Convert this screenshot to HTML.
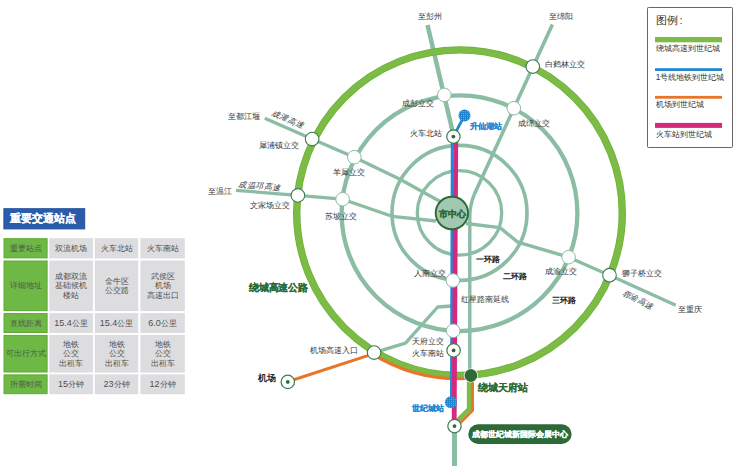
<!DOCTYPE html><html><head><meta charset="utf-8"><style>html,body{margin:0;padding:0;background:#fff;width:735px;height:466px;overflow:hidden}svg{display:block;font-family:"Liberation Sans",sans-serif}</style></head><body>
<svg width="735" height="466" viewBox="0 0 735 466">
<g fill="none" stroke="#8bbca4">
<circle cx="459.5" cy="212.9" r="42.2" stroke-width="3.3"/>
<circle cx="459.5" cy="212.9" r="67.5" stroke-width="3.6"/>
<circle cx="459.5" cy="213.2" r="117.9" stroke-width="4.3"/>
</g>
<path d="M427.5,25 L453.8,136.6" fill="none" stroke="#8bbca4" stroke-width="4.5" stroke-linejoin="round"/>
<path d="M552.4,24.5 L474,195" fill="none" stroke="#8bbca4" stroke-width="3.6" stroke-linejoin="round"/>
<path d="M264.8,118.2 L312.1,139.1 L354.3,157.2 L400,179.2 L441,202" fill="none" stroke="#8bbca4" stroke-width="3.3" stroke-linejoin="round"/>
<path d="M235.9,190.3 L297.9,195.4 L342.6,199.2 L392,216.3 L436,221" fill="none" stroke="#8bbca4" stroke-width="3.3" stroke-linejoin="round"/>
<path d="M466,223.5 L500,227.6 L517.7,242.1 L568.6,257.2 L609.5,275.2 L675.8,305.2" fill="none" stroke="#8bbca4" stroke-width="3.3" stroke-linejoin="round"/>
<path d="M374.1,352.6 L405.5,343.2 L437.7,307 L452,306" fill="none" stroke="#8bbca4" stroke-width="3.3" stroke-linejoin="round"/>
<path d="M454.5,426 L454.5,470" fill="none" stroke="#8bbca4" stroke-width="5" stroke-linejoin="round"/>
<path d="M474,195 Q470,205 469.8,216 L469.8,376" fill="none" stroke="#8bbca4" stroke-width="3.4"/>
<circle cx="459.5" cy="212.7" r="162.8" fill="none" stroke="#69b132" stroke-width="7.4"/>
<circle cx="459.5" cy="212.7" r="162.8" fill="none" stroke="#7bbb46" stroke-width="6"/>
<path d="M287.6,381.7 L372.5,354.1 A166,166 0 0 0 471.4,378.3 L472.5,375 L472.5,410.5 L458.5,424.5" fill="none" stroke="#e8762a" stroke-width="3" stroke-linejoin="miter"/>
<path d="M469,375 L469,409 L456,422" fill="none" stroke="#7bbb46" stroke-width="4.3"/>
<path d="M464.4,115.6 L453.4,136.6 L452.2,140 L451.4,402" fill="none" stroke="#2288d4" stroke-width="2.8"/>
<path d="M455.8,137 L454.2,420" fill="none" stroke="#d42a7e" stroke-width="4.8"/>
<defs><pattern id="dp" x="0" y="0" width="2" height="2" patternUnits="userSpaceOnUse"><rect width="2" height="2" fill="#1f86d4"/><rect x="1" y="1" width="1" height="1" fill="#5aa8e4"/></pattern></defs>
<circle cx="464.5" cy="115.4" r="6" fill="url(#dp)"/>
<circle cx="450.9" cy="402.2" r="6" fill="url(#dp)"/>
<circle cx="444.3" cy="94.9" r="6.8" fill="#fff" stroke="#8bbca4" stroke-width="1"/>
<circle cx="513.8" cy="108.2" r="6.8" fill="#fff" stroke="#8bbca4" stroke-width="1"/>
<circle cx="354.3" cy="157.2" r="6.8" fill="#fff" stroke="#8bbca4" stroke-width="1"/>
<circle cx="342.6" cy="199.2" r="6.8" fill="#fff" stroke="#8bbca4" stroke-width="1"/>
<circle cx="452.9" cy="280.5" r="6.8" fill="#fff" stroke="#8bbca4" stroke-width="1"/>
<circle cx="453.2" cy="330.8" r="6.8" fill="#fff" stroke="#8bbca4" stroke-width="1"/>
<circle cx="568.6" cy="257.2" r="6.8" fill="#fff" stroke="#8bbca4" stroke-width="1"/>
<circle cx="532.8" cy="66.6" r="6.8" fill="#fff" stroke="#3b7b4d" stroke-width="1.1"/>
<circle cx="312.1" cy="139.1" r="6.8" fill="#fff" stroke="#3b7b4d" stroke-width="1.1"/>
<circle cx="297.9" cy="195.4" r="6.8" fill="#fff" stroke="#3b7b4d" stroke-width="1.1"/>
<circle cx="609.5" cy="275.2" r="6.8" fill="#fff" stroke="#3b7b4d" stroke-width="1.1"/>
<circle cx="374.1" cy="352.6" r="6.8" fill="#fff" stroke="#3b7b4d" stroke-width="1.1"/>
<circle cx="453.4" cy="136.6" r="6.7" fill="#fff" stroke="#3b7b4d" stroke-width="1.2"/><circle cx="453.4" cy="136.6" r="1.9" fill="#2c6a37"/>
<circle cx="453.6" cy="350.4" r="6.7" fill="#fff" stroke="#3b7b4d" stroke-width="1.2"/><circle cx="453.6" cy="350.4" r="1.9" fill="#2c6a37"/>
<circle cx="454.5" cy="426.1" r="6.7" fill="#fff" stroke="#3b7b4d" stroke-width="1.2"/><circle cx="454.5" cy="426.1" r="1.9" fill="#2c6a37"/>
<circle cx="287.8" cy="381.9" r="6.7" fill="#fff" stroke="#3b7b4d" stroke-width="1.2"/><circle cx="287.8" cy="381.9" r="1.9" fill="#2c6a37"/>
<circle cx="470.9" cy="375.5" r="7.1" fill="#fff"/><circle cx="470.9" cy="375.5" r="5.9" fill="#2d6c39" stroke="#215c2b" stroke-width="0.9"/>
<circle cx="451.9" cy="213" r="16.2" fill="#a2c8b2" stroke="#2c6a37" stroke-width="1.9"/>
<text x="452.8" y="217.2" font-size="8.8" font-weight="bold" fill="#2c6a37" stroke="#2c6a37" stroke-width="0.3" text-anchor="middle">市中心</text>
<text x="417.7" y="19.2" font-size="8.4" fill="#333" >至彭州</text>
<text x="549" y="19.2" font-size="8.4" fill="#333" >至绵阳</text>
<text x="545" y="66.5" font-size="8.4" fill="#333" >白鹤林立交</text>
<text x="402.4" y="106.1" font-size="8.4" fill="#333" >成彭立交</text>
<text x="517.8" y="125.7" font-size="8.4" fill="#333" >成绵立交</text>
<text x="410" y="136.4" font-size="8.4" fill="#333" >火车北站</text>
<text x="470" y="128.9" font-size="8" fill="#2288d4"  font-weight="bold" stroke="#2288d4" stroke-width="0.15">升仙湖站</text>
<text x="227.5" y="119.2" font-size="8.4" fill="#333" >至都江堰</text>
<text x="259" y="147.9" font-size="8.4" fill="#333" >犀浦镇立交</text>
<text x="332.8" y="175.0" font-size="8.4" fill="#333" >羊犀立交</text>
<text x="207.5" y="194.3" font-size="8.4" fill="#333" >至温江</text>
<text x="250.3" y="207.9" font-size="8.4" fill="#333" >文家场立交</text>
<text x="325" y="219.2" font-size="8.4" fill="#333" >苏坡立交</text>
<text x="413.7" y="275.7" font-size="8.4" fill="#333" >人南立交</text>
<text x="461" y="302.4" font-size="8.4" fill="#333" >红星路南延线</text>
<text x="411.9" y="344.1" font-size="8.4" fill="#333" >天府立交</text>
<text x="411.9" y="355.9" font-size="8.4" fill="#333" >火车南站</text>
<text x="310" y="353.1" font-size="8.4" fill="#333" >机场高速入口</text>
<text x="544.8" y="274.3" font-size="8.4" fill="#333" >成渝立交</text>
<text x="622.4" y="276.1" font-size="8.4" fill="#333" >狮子桥立交</text>
<text x="678.2" y="311.7" font-size="8.4" fill="#333" >至重庆</text>
<text x="476.3" y="262.1" font-size="8.4" fill="#1a1a1a"  font-weight="bold">一环路</text>
<text x="503" y="279.2" font-size="8.4" fill="#1a1a1a"  font-weight="bold">二环路</text>
<text x="551.6" y="302.5" font-size="8.4" fill="#1a1a1a"  font-weight="bold">三环路</text>
<text x="258.4" y="380.9" font-size="8.6" fill="#1a1a1a"  font-weight="bold">机场</text>
<text x="249.3" y="291.3" font-size="10" fill="#2a6b34" letter-spacing="-0.3" font-weight="bold" stroke="#2a6b34" stroke-width="0.15">绕城高速公路</text>
<text x="477.6" y="390.7" font-size="9.6" fill="#2c6a37"  font-weight="bold" stroke="#2c6a37" stroke-width="0.15">绕城天府站</text>
<text x="411.9" y="411.3" font-size="8.4" fill="#2288d4"  font-weight="bold" stroke="#2288d4" stroke-width="0.15">世纪城站</text>
<text x="0" y="0" font-size="8" letter-spacing="0.6" fill="#333" font-style="italic" transform="translate(271,115) rotate(24)">成灌高速</text>
<text x="0" y="0" font-size="8" letter-spacing="0.6" fill="#333" font-style="italic" transform="translate(238,187) rotate(5)">成温邛高速</text>
<text x="0" y="0" font-size="8" letter-spacing="0.6" fill="#333" font-style="italic" transform="translate(621.5,294.5) rotate(27)">蓉渝高速</text>
<rect x="468.3" y="424.3" width="103.3" height="19.7" rx="9.85" fill="#2c6a37"/>
<text x="519.8" y="437.3" font-size="7.5" font-weight="bold" fill="#fff" stroke="#fff" stroke-width="0.3" text-anchor="middle">成都世纪城新国际会展中心</text>
<rect x="647.5" y="7.5" width="85" height="140" rx="0.8" fill="#fff" stroke="#686666" stroke-width="1"/>
<text x="655.6" y="23.8" font-size="11" fill="#333" >图例<tspan dx="1.8">:</tspan></text>
<rect x="655" y="37" width="67" height="5.3" fill="#7bbb46"/>
<text x="655.8" y="50.5" font-size="8.4" fill="#333" >绕城高速到世纪城</text>
<rect x="655" y="68.2" width="67" height="2.8" fill="#2288d4"/>
<text x="655.8" y="79.8" font-size="8.4" fill="#333" >1号线地铁到世纪城</text>
<rect x="655" y="95.9" width="67" height="2.8" fill="#e8762a"/>
<text x="655.8" y="107.4" font-size="8.4" fill="#333" >机场到世纪城</text>
<rect x="655" y="122.9" width="67" height="5" fill="#d42a7e"/>
<text x="655.8" y="137.4" font-size="8.4" fill="#333" >火车站到世纪城</text>
<rect x="3.9" y="208.7" width="80.8" height="20.2" fill="#2b5cab" stroke="#24519c" stroke-width="1"/>
<text x="10.1" y="222.4" font-size="11.1" font-weight="bold" fill="#fff" stroke="#fff" stroke-width="0.12">重要交通站点</text>
<rect x="4.0" y="238.7" width="43.1" height="19.2" fill="#6eb945" stroke="#5bab2e" stroke-width="1"/>
<text x="25.6" y="250.8" font-size="8.1" fill="#48584a" text-anchor="middle">重要站点</text>
<rect x="49.3" y="238.2" width="43.6" height="20.2" fill="#dddde0"/>
<text x="71.1" y="250.8" font-size="8.1" fill="#4e4e4e" text-anchor="middle">双流机场</text>
<rect x="94.8" y="238.2" width="43.5" height="20.2" fill="#dddde0"/>
<text x="116.6" y="250.8" font-size="8.1" fill="#4e4e4e" text-anchor="middle">火车北站</text>
<rect x="140.4" y="238.2" width="44.4" height="20.2" fill="#dddde0"/>
<text x="162.6" y="250.8" font-size="8.1" fill="#4e4e4e" text-anchor="middle">火车南站</text>
<rect x="4.0" y="261.0" width="43.1" height="49.6" fill="#6eb945" stroke="#5bab2e" stroke-width="1"/>
<text x="25.6" y="288.3" font-size="8.1" fill="#48584a" text-anchor="middle">详细地址</text>
<rect x="49.3" y="260.5" width="43.6" height="50.6" fill="#dddde0"/>
<text x="71.1" y="278.8" font-size="8.1" fill="#4e4e4e" text-anchor="middle">成都双流</text>
<text x="71.1" y="288.3" font-size="8.1" fill="#4e4e4e" text-anchor="middle">基础候机</text>
<text x="71.1" y="297.8" font-size="8.1" fill="#4e4e4e" text-anchor="middle">楼站</text>
<rect x="94.8" y="260.5" width="43.5" height="50.6" fill="#dddde0"/>
<text x="116.6" y="283.6" font-size="8.1" fill="#4e4e4e" text-anchor="middle">金牛区</text>
<text x="116.6" y="293.1" font-size="8.1" fill="#4e4e4e" text-anchor="middle">公交路</text>
<rect x="140.4" y="260.5" width="44.4" height="50.6" fill="#dddde0"/>
<text x="162.6" y="278.8" font-size="8.1" fill="#4e4e4e" text-anchor="middle">武侯区</text>
<text x="162.6" y="288.3" font-size="8.1" fill="#4e4e4e" text-anchor="middle">机场</text>
<text x="162.6" y="297.8" font-size="8.1" fill="#4e4e4e" text-anchor="middle">高速出口</text>
<rect x="4.0" y="313.6" width="43.1" height="18.9" fill="#6eb945" stroke="#5bab2e" stroke-width="1"/>
<text x="25.6" y="325.6" font-size="8.1" fill="#48584a" text-anchor="middle">直线距离</text>
<rect x="49.3" y="313.1" width="43.6" height="19.9" fill="#dddde0"/>
<text x="71.1" y="325.6" font-size="8.1" fill="#4e4e4e" text-anchor="middle"><tspan font-size="9">15.4</tspan>公里</text>
<rect x="94.8" y="313.1" width="43.5" height="19.9" fill="#dddde0"/>
<text x="116.6" y="325.6" font-size="8.1" fill="#4e4e4e" text-anchor="middle"><tspan font-size="9">15.4</tspan>公里</text>
<rect x="140.4" y="313.1" width="44.4" height="19.9" fill="#dddde0"/>
<text x="162.6" y="325.6" font-size="8.1" fill="#4e4e4e" text-anchor="middle"><tspan font-size="9">6.0</tspan>公里</text>
<rect x="4.0" y="335.4" width="43.1" height="36.6" fill="#6eb945" stroke="#5bab2e" stroke-width="1"/>
<text x="25.6" y="356.2" font-size="8.1" fill="#48584a" text-anchor="middle">可出行方式</text>
<rect x="49.3" y="334.9" width="43.6" height="37.6" fill="#dddde0"/>
<text x="71.1" y="346.7" font-size="8.1" fill="#4e4e4e" text-anchor="middle">地铁</text>
<text x="71.1" y="356.2" font-size="8.1" fill="#4e4e4e" text-anchor="middle">公交</text>
<text x="71.1" y="365.7" font-size="8.1" fill="#4e4e4e" text-anchor="middle">出租车</text>
<rect x="94.8" y="334.9" width="43.5" height="37.6" fill="#dddde0"/>
<text x="116.6" y="346.7" font-size="8.1" fill="#4e4e4e" text-anchor="middle">地铁</text>
<text x="116.6" y="356.2" font-size="8.1" fill="#4e4e4e" text-anchor="middle">公交</text>
<text x="116.6" y="365.7" font-size="8.1" fill="#4e4e4e" text-anchor="middle">出租车</text>
<rect x="140.4" y="334.9" width="44.4" height="37.6" fill="#dddde0"/>
<text x="162.6" y="346.7" font-size="8.1" fill="#4e4e4e" text-anchor="middle">地铁</text>
<text x="162.6" y="356.2" font-size="8.1" fill="#4e4e4e" text-anchor="middle">公交</text>
<text x="162.6" y="365.7" font-size="8.1" fill="#4e4e4e" text-anchor="middle">出租车</text>
<rect x="4.0" y="374.9" width="43.1" height="18.8" fill="#6eb945" stroke="#5bab2e" stroke-width="1"/>
<text x="25.6" y="386.8" font-size="8.1" fill="#48584a" text-anchor="middle">所需时间</text>
<rect x="49.3" y="374.4" width="43.6" height="19.8" fill="#dddde0"/>
<text x="71.1" y="386.8" font-size="8.1" fill="#4e4e4e" text-anchor="middle"><tspan font-size="9">15</tspan>分钟</text>
<rect x="94.8" y="374.4" width="43.5" height="19.8" fill="#dddde0"/>
<text x="116.6" y="386.8" font-size="8.1" fill="#4e4e4e" text-anchor="middle"><tspan font-size="9">23</tspan>分钟</text>
<rect x="140.4" y="374.4" width="44.4" height="19.8" fill="#dddde0"/>
<text x="162.6" y="386.8" font-size="8.1" fill="#4e4e4e" text-anchor="middle"><tspan font-size="9">12</tspan>分钟</text>
</svg></body></html>
